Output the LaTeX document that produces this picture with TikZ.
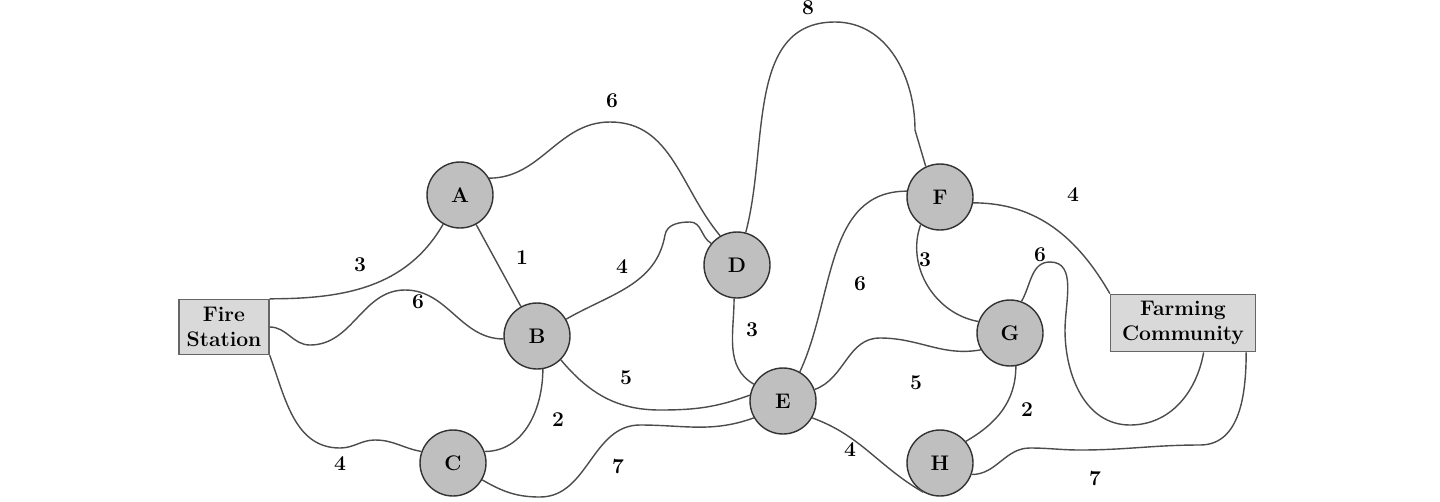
\documentclass[tikz,border=0pt]{standalone}
\begin{document}
\begin{tikzpicture}[x=0.02cm,y=-0.02cm,
  city/.style={circle,draw=black!80,fill=black!25,minimum size=1.32cm,inner sep=0pt,font=\bfseries\large,line width=0.8pt},
  place/.style={rectangle,draw=black!60,fill=black!15,font=\bfseries\large,align=center,inner sep=2pt,line width=0.8pt},
  road/.style={draw=black!70,line width=0.8pt},
  wt/.style={font=\bfseries\large}]
\useasboundingbox (0,0) rectangle (1440,501);
\node[city] (A) at (460,195) {A};
\node[city] (B) at (537,336) {B};
\node[city] (C) at (453,463) {C};
\node[city] (D) at (737,265) {D};
\node[city] (E) at (783,401) {E};
\node[city] (F) at (940,197) {F};
\node[city] (G) at (1010,333) {G};
\node[city] (H) at (940,463) {H};
\node[place,minimum width=1.8cm,minimum height=1.1cm] (FS) at (224,327) {Fire\\Station};
\node[place,minimum width=2.9cm,minimum height=1.15cm] (FC) at (1183,323) {Farming\\Community};
\path[road]
 (FS.north east) to[out=0,in=240] (A)
 (A) -- (B)
 (A.30) to[out=0,in=180] (610,122) to[out=0,in=130] (D.120)
 (FS.east) to[out=0,in=180] (310,345) to[out=0,in=180] (405,290) to[out=0,in=180] (B.185)
 (FS.south east) to[out=-70,in=180] (340,448) to[out=0,in=180] (375,440) to[out=0,in=170] (C.160)
 (B.30) to[out=30,in=-100] (665,235) to[out=80,in=180] (690,222) to[out=0,in=150] (D.140)
 (B.-80) to[out=-90,in=0] (C.20)
 (B.-45) to[out=-50,in=180] (660,410) to[out=0,in=200] (E.170)
 (C.-30) to[out=-30,in=180] (540,497) to[out=0,in=180] (640,425) to[out=0,in=200] (E.210)
 (D.-95) to[out=-90,in=150] (E.150)
 (D.75) to[out=75,in=180] (835,22) to[out=0,in=90] (915,130) -- (F.115)
 (E.60) to[out=65,in=180] (F.170)
 (E.20) to[out=20,in=180] (880,338) to[out=0,in=190] (G.-150)
 (E.-30) to[out=-20,in=150] (H.-120)
 (F.-125) to[out=-110,in=170] (G.160)
 (F.-10) to[out=0,in=120] (FC.north west)
 (G.-80) to[out=-90,in=30] (H.40)
 (G.70) to[out=60,in=180] (1050,262) to[out=0,in=90] (1065,330) to[out=-90,in=180] (1130,425) to[out=0,in=-100] (FC.-55)
 (H.-20) to[out=0,in=180] (1030,448) to[out=0,in=180] (1080,450) to[out=0,in=180] (1200,445) to[out=0,in=-90] (FC.-25);
\node[wt] (l1) at (360,265) {3};
\node[wt] (l2) at (612,101) {6};
\node[wt] (l3) at (418,302) {6};
\node[wt] (l4) at (340,464) {4};
\node[wt] (l5) at (622,267) {4};
\node[wt] (l6) at (558,420) {2};
\node[wt] (l7) at (626,378) {5};
\node[wt] (l8) at (618,466) {7};
\node[wt] (l9) at (752,330) {3};
\node[wt] (l10) at (808,8) {8};
\node[wt] (l11) at (860,284) {6};
\node[wt] (l12) at (916,383) {5};
\node[wt] (l13) at (850,450) {4};
\node[wt] (l14) at (925,260) {3};
\node[wt] (l15) at (1073,195) {4};
\node[wt] (l16) at (1027,410) {2};
\node[wt] (l17) at (1040,255) {6};
\node[wt] (l18) at (1095,478) {7};
\node[wt] (l19) at (522,258) {1};
\end{tikzpicture}
\end{document}
